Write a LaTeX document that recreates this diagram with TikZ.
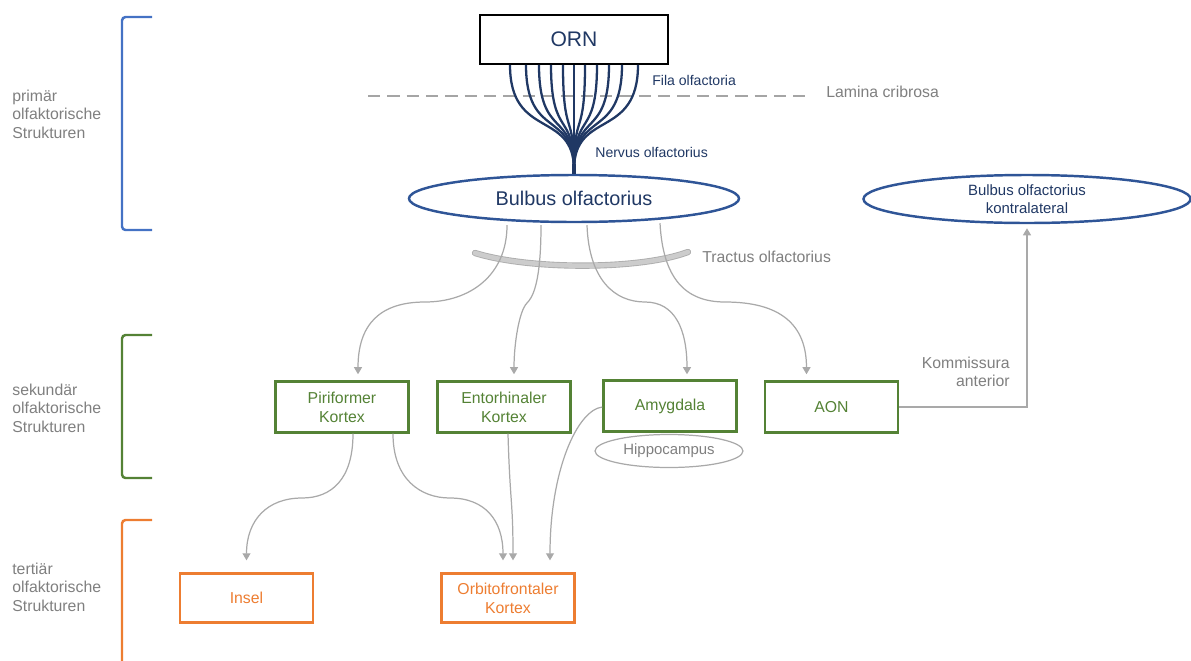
\documentclass[tikz,border=0pt]{standalone}
\usepackage{fontspec}
\setmainfont{Liberation Sans}
\usetikzlibrary{arrows.meta,calc,shapes.geometric}

\definecolor{navy}{HTML}{203864}
\definecolor{bulbblue}{HTML}{2F5597}
\definecolor{primblue}{HTML}{4472C4}
\definecolor{sekgreen}{HTML}{548235}
\definecolor{tertorange}{HTML}{ED7D31}
\definecolor{labelgray}{HTML}{7F7F7F}
\definecolor{arrowgray}{HTML}{A9A9A9}

\def\pu{0.02cm}

\tikzset{
  greenbox/.style={draw=sekgreen, line width=1.4pt, text=sekgreen, align=center,
    minimum width=133*\pu, minimum height=51*\pu, font=\fontsize{9}{10.8}\selectfont},
  orangebox/.style={draw=tertorange, line width=1.3pt, text=tertorange, align=center,
    minimum width=133*\pu, minimum height=49*\pu, font=\fontsize{9}{10.8}\selectfont},
  bulb/.style={ellipse, draw=bulbblue, line width=1.4pt, text=navy, align=center, inner sep=0pt},
  faser/.style={draw=navy, line width=1.3pt},
  pfeil/.style={draw=arrowgray, line width=0.7pt, -{Triangle[length=4pt,width=4.5pt]}},
  graylabel/.style={text=labelgray, font=\fontsize{9}{10.5}\selectfont, inner sep=0pt},
  navylabel/.style={text=navy, font=\fontsize{8}{9.6}\selectfont, inner sep=0pt, anchor=west},
  klammer/.style={line width=1.4pt, rounded corners=2pt},
}

\begin{document}
\begin{tikzpicture}[x=0.02cm, y=-0.02cm]
  \useasboundingbox (0,0) rectangle (1191,660);

  % Stufen links
  \draw[klammer, primblue] (152,17) -- (122,17) -- (122,230) -- (152,230);
  \draw[klammer, sekgreen] (152,335) -- (122,335) -- (122,478) -- (152,478);
  \draw[klammer, tertorange] (152,520) -- (122,520) -- (122,662);
  \node[graylabel, anchor=west, align=left] (prim) at (12,114) {primär\\olfaktorische\\Strukturen};
  \node[graylabel, anchor=west, align=left] (sek) at (12,408) {sekundär\\olfaktorische\\Strukturen};
  \node[graylabel, anchor=west, align=left] (tert) at (12,587) {tertiär\\olfaktorische\\Strukturen};

  % primaer
  \node[draw=black, line width=0.9pt, text=navy, minimum width=188*\pu, minimum height=49*\pu,
        font=\fontsize{12}{14}\selectfont] (orn) at (574,39.5) {ORN};
  \node[bulb, minimum width=330*\pu, minimum height=47*\pu, font=\fontsize{11.3}{13}\selectfont]
        (bulbus) at (574,198.5) {Bulbus olfactorius};
  \node[bulb, minimum width=327*\pu, minimum height=48*\pu, font=\fontsize{8.5}{10.5}\selectfont]
        (kontra) at (1027,199) {Bulbus olfactorius\\kontralateral};

  \draw[labelgray!70, line width=1.7pt, dash pattern=on 7pt off 4pt] (368,96) -- (807,96);
  \node[graylabel, anchor=west] (lamina) at (826,92) {Lamina cribrosa};

  \foreach \dx in {-64,-48,-35,-23,-11,0,11,23,35,48,64}
    \draw[faser] ($(orn.south)+(\dx,0)$) .. controls +(0,75) and +(0,-60) .. ($(bulbus.north)+(0,-4)$);
  \draw[faser, line width=1.8pt] ($(bulbus.north)+(0,-10)$) -- (bulbus.north);
  \node[navylabel] (fila) at (652,80) {Fila olfactoria};
  \node[navylabel] (nervus) at (595,152) {Nervus olfactorius};

  % Tractus
  \draw[black!32, line width=3.6pt, line cap=round]
    (475,253) .. controls (530,270) and (640,270) .. (688,252);
  \draw[black!20, line width=2.6pt, line cap=round]
    (475,253) .. controls (530,270) and (640,270) .. (688,252);
  \node[graylabel, anchor=west] (tractus) at (702,257) {Tractus olfactorius};

  % sekundaer
  \node[greenbox] (pir) at (342,407) {Piriformer\\Kortex};
  \node[greenbox] (ento) at (504,407) {Entorhinaler\\Kortex};
  \node[greenbox] (amyg) at (670,406) {Amygdala};
  \node[greenbox] (aon) at (831.5,407) {AON};
  \node[ellipse, draw=arrowgray, line width=0.7pt, text=labelgray, minimum width=148*\pu,
        minimum height=33*\pu, inner sep=0pt, font=\fontsize{8.5}{10}\selectfont] (hippo) at (669,451) {Hippocampus};

  \draw[pfeil] ($(bulbus.south)+(-67,2)$) .. controls +(0,50) and +(45,0) .. (425,302)
    .. controls +(-45,0) and +(0,-50) .. ($(pir.north)+(16,-6)$);
  \draw[pfeil] ($(bulbus.south)+(-33,2)$) .. controls +(0,60) and +(5,-5) .. (527,303)
    .. controls +(-8,8) and +(0,-30) .. ($(ento.north)+(10,-6)$);
  \draw[pfeil] ($(bulbus.south)+(13,2)$) .. controls +(2,55) and +(-30,0) .. (645,302)
    .. controls +(30,0) and +(0,-45) .. ($(amyg.north)+(17,-5)$);
  \draw[pfeil] ($(bulbus.south)+(86,0)$) .. controls +(3,55) and +(-40,0) .. (725,302)
    .. controls +(55,0) and +(0,-50) .. ($(aon.north)+(-25,-6)$);

  % Kommissura
  \draw[pfeil, line width=0.85pt] (aon.east) -| ($(kontra.south)+(0,4)$);
  \node[graylabel, anchor=east, align=right] (komm) at (1010,372) {Kommissura\\anterior};

  % tertiaer
  \node[orangebox] (insel) at (246.5,598) {Insel};
  \node[orangebox] (ofc) at (508,598) {Orbitofrontaler\\Kortex};

  \draw[pfeil] ($(pir.south)+(11,0)$) .. controls +(0,45) and +(30,0) .. (302,498)
    .. controls +(-35,0) and +(0,-40) .. ($(insel.north)+(0,-12)$);
  \draw[pfeil] ($(pir.south)+(51,0)$) .. controls +(0,45) and +(-30,0) .. (450,498)
    .. controls +(35,0) and +(0,-40) .. ($(ofc.north)+(-5,-12)$);
  \draw[pfeil] ($(ento.south)+(4,0)$) .. controls +(2,70) and +(0,-60) .. ($(ofc.north)+(5,-12)$);
  \draw[pfeil] ($(amyg.west)+(0,1)$) .. controls +(-25,3) and +(0,-90) .. ($(ofc.north)+(42,-12)$);
\end{tikzpicture}
\end{document}
